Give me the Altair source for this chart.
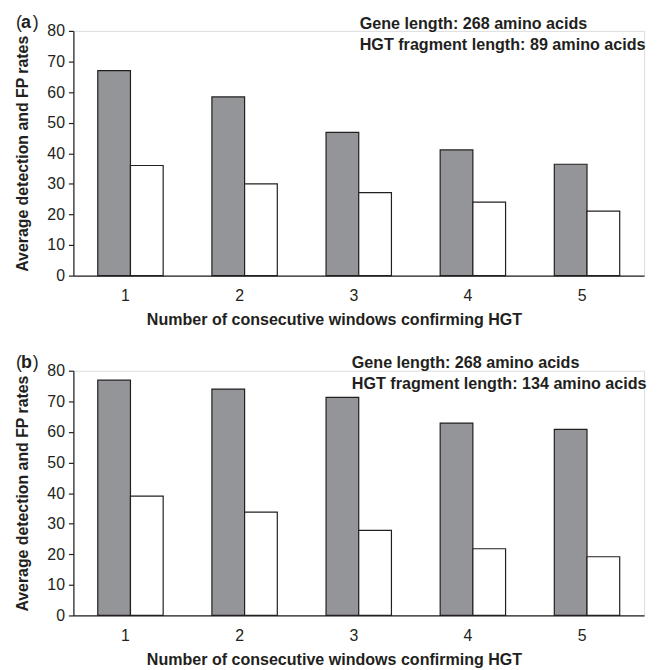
import altair as alt
import pandas as pd

windows = [1, 2, 3, 4, 5]
series = ["Detection", "FP"]
detection_a = [67.0, 58.4, 46.8, 41.1, 36.4]
fp_a = [36.0, 30.0, 27.1, 24.0, 21.1]
detection_b = [76.9, 74.0, 71.3, 62.9, 60.8]
fp_b = [39.0, 33.8, 27.8, 21.8, 19.2]

notes_a = ["Gene length: 268 amino acids", "HGT fragment length: 89 amino acids"]
notes_b = ["Gene length: 268 amino acids", "HGT fragment length: 134 amino acids"]
y_ticks = [0, 10, 20, 30, 40, 50, 60, 70, 80]

FONT = "Liberation Sans"
INK = "#231f20"
W, H = 576, 247


def make_df(det, fp):
    rows = []
    for w, d, f in zip(windows, det, fp):
        rows.append({"window": w, "series": series[0], "value": d})
        rows.append({"window": w, "series": series[1], "value": f})
    return pd.DataFrame(rows)


def panel(det, fp, notes, letter, note_x, note_y0):
    df = make_df(det, fp)
    bars = alt.Chart(df).mark_bar(stroke=INK, strokeWidth=1.2).encode(
        x=alt.X("window:O",
                scale=alt.Scale(paddingInner=0.427, paddingOuter=0.2135),
                axis=alt.Axis(title="Number of consecutive windows confirming HGT",
                              labelAngle=0, ticks=False, labelPadding=12,
                              labelOffset=-5,
                              titlePadding=8, titleX=263,
                              labelFontSize=16, labelFont=FONT, labelColor=INK,
                              titleFont=FONT, titleFontSize=16.2,
                              titleFontWeight="bold", titleColor=INK,
                              domainColor=INK, domainWidth=1.2)),
        xOffset=alt.XOffset("series:N", sort=series),
        y=alt.Y("value:Q", scale=alt.Scale(domain=[0, 80]),
                axis=alt.Axis(title="Average detection and FP rates",
                              values=y_ticks, grid=False, tickSize=5,
                              labelPadding=4, titlePadding=17,
                              labelFontSize=16, labelFont=FONT, labelColor=INK,
                              titleFont=FONT, titleFontSize=16,
                              titleFontWeight="bold", titleColor=INK,
                              domainColor=INK, tickColor=INK,
                              domainWidth=1.2, tickWidth=1.2)),
        color=alt.Color("series:N", sort=series,
                        scale=alt.Scale(domain=series, range=["#939598", "#ffffff"]),
                        legend=None),
    )
    ndf = pd.DataFrame({"text": notes, "i": list(range(len(notes)))})
    note_layers = []
    for i, t in enumerate(notes):
        note_layers.append(
            alt.Chart(ndf[ndf.i == i]).mark_text(
                align="left", baseline="middle", font=FONT, fontSize=16.3,
                fontWeight="bold", color=INK
            ).encode(text="text:N", x=alt.value(note_x), y=alt.value(note_y0 + 21 * i))
        )
    ldf = pd.DataFrame({"t": ["(", letter, ")"]})
    lab = []
    for t, xx, wt in [("(", -58, "normal"), (letter, -53, "bold"), (")", -41, "normal")]:
        lab.append(
            alt.Chart(ldf[ldf.t == t]).mark_text(
                align="left", baseline="middle", font=FONT, fontSize=18,
                fontWeight=wt, color=INK
            ).encode(text="t:N", x=alt.value(xx), y=alt.value(-8))
        )
    return alt.layer(bars, *note_layers, *lab).properties(width=W, height=H)


pa = panel(detection_a, fp_a, notes_a, "a", 289, -7)
pb = panel(detection_b, fp_b, notes_b, "b", 281, -8)

chart = alt.vconcat(pa, pb, spacing=25).properties(
    padding={"left": 5, "top": 2, "right": 5, "bottom": 5}
).configure_view(stroke=None).configure(background="white")

chart.save("out.html", embed_options={"renderer": "svg", "actions": False})
